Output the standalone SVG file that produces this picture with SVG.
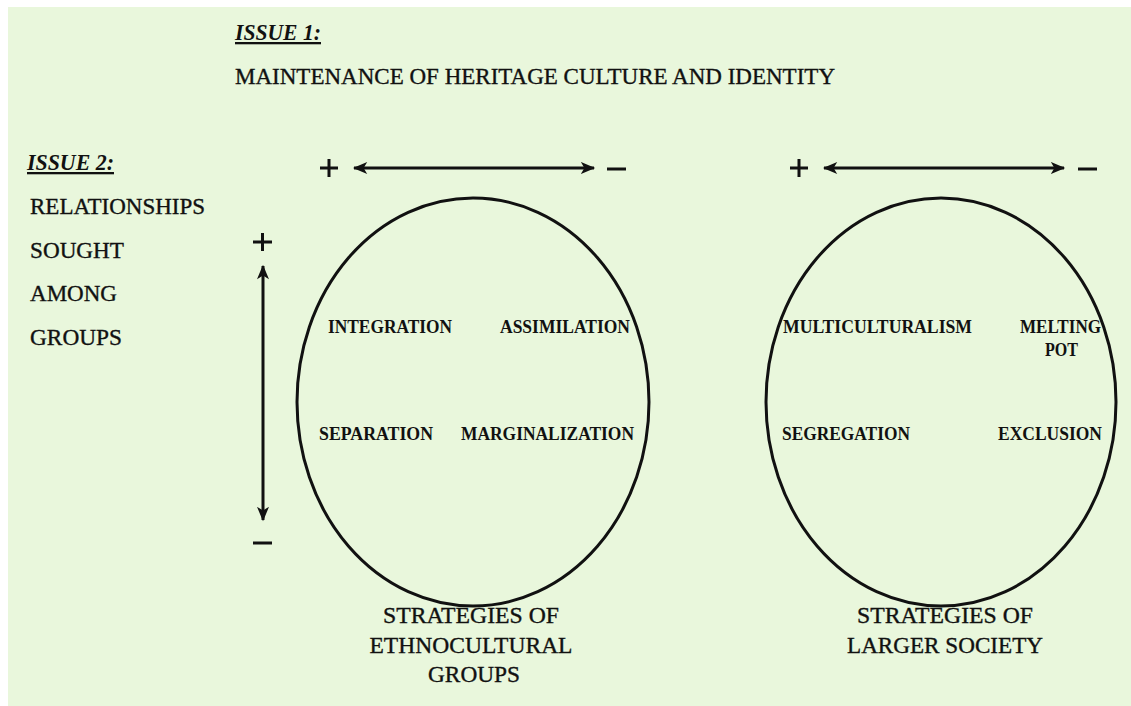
<svg xmlns="http://www.w3.org/2000/svg" width="1131" height="706" viewBox="0 0 1131 706">
  <defs>
    <style>
      .t { font-family: "Liberation Serif", "Times New Roman", serif; fill: #111; }
      .hd { font-size: 23px; stroke: #111; stroke-width: 0.35; }
      .lb { font-size: 18.5px; font-weight: bold; }
      .iss { font-size: 23px; font-style: italic; font-weight: bold; text-decoration: underline; }
      .ax { stroke: #111; stroke-width: 3; fill: none; }
      .ring { stroke: #111; stroke-width: 3; fill: none; }
      .sg { stroke: #111; stroke-width: 3; fill: none; }
    </style>
    <marker id="head" viewBox="0 0 12 10" refX="11" refY="5" markerWidth="5" markerHeight="4" markerUnits="strokeWidth" orient="auto-start-reverse">
      <path d="M0,0 L12,5 L0,10 L3,5 Z" fill="#111"/>
    </marker>
  </defs>

  <rect x="0" y="0" width="1131" height="706" fill="#ffffff"/>
  <rect x="8" y="7" width="1123" height="699" fill="#e9f7dc"/>

  <!-- issue headings -->
  <g id="issue1">
    <text class="t iss" x="235" y="40" textLength="86" lengthAdjust="spacingAndGlyphs">ISSUE 1:</text>
    <text class="t hd" x="235" y="84" textLength="600" lengthAdjust="spacingAndGlyphs">MAINTENANCE OF HERITAGE CULTURE AND IDENTITY</text>
  </g>
  <g id="issue2">
    <text class="t iss" x="27" y="170" textLength="87" lengthAdjust="spacingAndGlyphs">ISSUE 2:</text>
    <text class="t hd" x="30" y="214" textLength="175" lengthAdjust="spacingAndGlyphs">RELATIONSHIPS</text>
    <text class="t hd" x="30" y="258" textLength="94" lengthAdjust="spacingAndGlyphs">SOUGHT</text>
    <text class="t hd" x="30" y="301" textLength="87" lengthAdjust="spacingAndGlyphs">AMONG</text>
    <text class="t hd" x="30" y="345" textLength="92" lengthAdjust="spacingAndGlyphs">GROUPS</text>
  </g>

  <!-- axes -->
  <g id="connectors">
    <line class="ax" x1="354" y1="168" x2="594" y2="168" marker-start="url(#head)" marker-end="url(#head)"/>
    <line class="ax" x1="824" y1="168" x2="1064" y2="168" marker-start="url(#head)" marker-end="url(#head)"/>
    <line class="ax" x1="263" y1="266" x2="263" y2="520" marker-start="url(#head)" marker-end="url(#head)"/>
  </g>
  <g id="signs">
    <path class="sg" d="M320,168 h18 M329,159 v18"/>
    <path class="sg" d="M607,169 h19"/>
    <path class="sg" d="M790,168 h18 M799,159 v18"/>
    <path class="sg" d="M1078,169 h19"/>
    <path class="sg" d="M253,242 h19 M262.5,233 v18"/>
    <path class="sg" d="M253,543 h19"/>
  </g>

  <!-- ethnocultural group strategies -->
  <g id="groups-circle">
    <ellipse class="ring" cx="473" cy="402" rx="176" ry="204"/>
    <text class="t lb" x="328" y="333" textLength="124" lengthAdjust="spacingAndGlyphs">INTEGRATION</text>
    <text class="t lb" x="500" y="333" textLength="130" lengthAdjust="spacingAndGlyphs">ASSIMILATION</text>
    <text class="t lb" x="319" y="440" textLength="114" lengthAdjust="spacingAndGlyphs">SEPARATION</text>
    <text class="t lb" x="461" y="440" textLength="173" lengthAdjust="spacingAndGlyphs">MARGINALIZATION</text>
  </g>
  <g id="groups-caption">
    <text class="t hd" x="471" y="623" text-anchor="middle" textLength="176" lengthAdjust="spacingAndGlyphs">STRATEGIES OF</text>
    <text class="t hd" x="471" y="653" text-anchor="middle" textLength="203" lengthAdjust="spacingAndGlyphs">ETHNOCULTURAL</text>
    <text class="t hd" x="474" y="682" text-anchor="middle" textLength="92" lengthAdjust="spacingAndGlyphs">GROUPS</text>
  </g>

  <!-- larger society strategies -->
  <g id="society-circle">
    <ellipse class="ring" cx="941" cy="402" rx="175" ry="204"/>
    <text class="t lb" x="783" y="333" textLength="189" lengthAdjust="spacingAndGlyphs">MULTICULTURALISM</text>
    <text class="t lb" x="1020" y="333" textLength="81" lengthAdjust="spacingAndGlyphs">MELTING</text>
    <text class="t lb" x="1045" y="356" textLength="33" lengthAdjust="spacingAndGlyphs">POT</text>
    <text class="t lb" x="782" y="440" textLength="128" lengthAdjust="spacingAndGlyphs">SEGREGATION</text>
    <text class="t lb" x="998" y="440" textLength="104" lengthAdjust="spacingAndGlyphs">EXCLUSION</text>
  </g>
  <g id="society-caption">
    <text class="t hd" x="945" y="623" text-anchor="middle" textLength="176" lengthAdjust="spacingAndGlyphs">STRATEGIES OF</text>
    <text class="t hd" x="945" y="653" text-anchor="middle" textLength="196" lengthAdjust="spacingAndGlyphs">LARGER SOCIETY</text>
  </g>
</svg>
